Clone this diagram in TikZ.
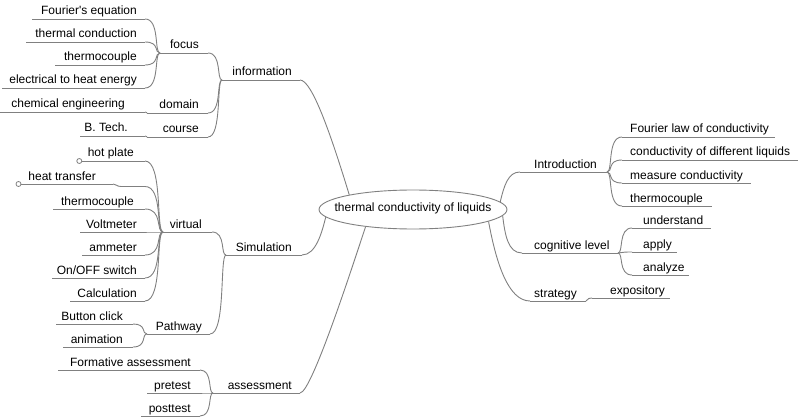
\documentclass[tikz,border=0pt]{standalone}
\usepackage{fontspec}
\setmainfont{Liberation Sans}
\usetikzlibrary{shapes.geometric,calc}
\definecolor{linegray}{RGB}{128,128,128}
\definecolor{txt}{RGB}{0,0,0}
\newcommand\leftitem[6]{%
  \coordinate (#1-l) at (#2,#4);
  \coordinate (#1-r) at (#3,#4);
  \draw[uline] (#1-l) -- (#1-r);
  \node[lbl, anchor=base east] (#1) at (#5,#4-4) {#6};}
\newcommand\rightitem[6]{%
  \coordinate (#1-l) at (#2,#4);
  \coordinate (#1-r) at (#3,#4);
  \draw[uline] (#1-l) -- (#1-r);
  \node[lbl, anchor=base west] (#1) at (#5,#4-4) {#6};}
\newcommand\mmlink[2]{\draw[conn] let \p1=(#1), \p2=(#2) in (\p1) .. controls (\x2,\y1) and ({0.4*\x1+0.6*\x2},\y2) .. (\p2);}
\begin{document}
\begin{tikzpicture}[x=1pt, y=-1pt,
  uline/.style={draw=linegray, line width=0.9pt},
  conn/.style={draw=linegray, line width=0.9pt},
  lbl/.style={inner sep=0pt, font=\fontsize{12}{14}\selectfont, text=txt},
  knob/.style={circle, draw=linegray, fill=white, line width=0.8pt, inner sep=0pt, minimum size=5pt}]
\useasboundingbox (0,0) rectangle (798,417);

% central topic
\node[ellipse, draw=linegray, line width=0.9pt, fill=white, minimum width=188pt, minimum height=39pt,
      inner sep=0pt, font=\fontsize{12}{14}\selectfont, text=txt] (root) at (413,209.5)
      {\raisebox{-4.3pt}{\smash{\makebox[0pt]{thermal conductivity of liquids}}}};

% ---------- information ----------
\leftitem{fe}{32}{145}{19}{137}{Fourier\textquotesingle s equation}
\leftitem{tc}{26}{145}{42}{137}{thermal conduction}
\leftitem{tha}{55}{145}{65}{137}{thermocouple}
\leftitem{el}{2}{145}{88}{137}{electrical to heat energy}
\leftitem{focus}{160}{208}{53}{199}{focus}
\leftitem{chem}{0}{145}{112}{125}{chemical engineering}
\leftitem{domain}{147}{208}{113}{199}{domain}
\leftitem{btech}{80}{145}{136}{128}{B. Tech.}
\leftitem{course}{147}{208}{137}{199}{course}
\leftitem{info}{222}{300}{80}{292}{information}
\mmlink{fe-r}{focus-l}
\mmlink{tc-r}{focus-l}
\mmlink{tha-r}{focus-l}
\mmlink{el-r}{focus-l}
\mmlink{chem-r}{domain-l}
\mmlink{btech-r}{course-l}
\mmlink{focus-r}{info-l}
\mmlink{domain-r}{info-l}
\mmlink{course-r}{info-l}
\draw[conn] (info-r) .. controls (312,80) and (331,135) .. (root.167);

% ---------- Simulation ----------
\leftitem{hp}{82}{145}{161}{134}{hot plate}
\leftitem{ht}{21}{113}{184}{96}{heat transfer}
\leftitem{thb}{53}{145}{209}{134}{thermocouple}
\leftitem{volt}{80}{145}{232}{137}{Voltmeter}
\leftitem{amm}{82}{145}{255}{137}{ammeter}
\leftitem{onoff}{52}{145}{278}{137}{On/OFF switch}
\leftitem{calc}{70}{145}{301}{137}{Calculation}
\leftitem{virtual}{163}{212}{232}{202}{virtual}
\leftitem{btn}{56}{133}{324}{123}{Button click}
\leftitem{anim}{63}{133}{347}{123}{animation}
\leftitem{path}{147}{210}{334}{202}{Pathway}
\leftitem{sim}{226}{302}{255}{292}{Simulation}
\node[knob] (hpk) at (79.3,161) {};
\node[knob] (htk) at (18.5,184) {};
\mmlink{hp-r}{virtual-l}
\draw[conn] (ht-r) .. controls (117,184) and (116,186.5) .. (121,186.5) -- (145,186.5)
  .. controls (163,186.5) and (155.8,232) .. (virtual-l);
\mmlink{thb-r}{virtual-l}
\mmlink{volt-r}{virtual-l}
\mmlink{amm-r}{virtual-l}
\mmlink{onoff-r}{virtual-l}
\mmlink{calc-r}{virtual-l}
\mmlink{btn-r}{path-l}
\mmlink{anim-r}{path-l}
\mmlink{virtual-r}{sim-l}
\mmlink{path-r}{sim-l}
\draw[conn] (sim-r) .. controls (316,255) and (322,232) .. (root.185);

% ---------- assessment ----------
\leftitem{form}{58}{200}{370}{191}{Formative assessment}
\leftitem{pre}{147}{200}{393}{191}{pretest}
\leftitem{post}{141}{200}{416}{191}{posttest}
\leftitem{assess}{213}{300}{393}{292}{assessment}
\mmlink{form-r}{assess-l}
\mmlink{pre-r}{assess-l}
\mmlink{post-r}{assess-l}
\draw[conn] (assess-r) .. controls (312,393) and (356,255) .. (root.200);

% ---------- right side ----------
\rightitem{intro}{520}{607}{172}{534}{Introduction}
\rightitem{fl}{622}{775}{137}{630}{Fourier law of conductivity}
\rightitem{cdl}{622}{798}{160}{630}{conductivity of different liquids}
\rightitem{mc}{622}{751}{183}{630}{measure conductivity}
\rightitem{thc}{622}{712}{206}{630}{thermocouple}
\rightitem{cog}{522}{618}{253}{534}{cognitive level}
\rightitem{und}{632}{711}{228}{643}{understand}
\rightitem{app}{632}{677}{252}{643}{apply}
\rightitem{ana}{632}{689}{275}{643}{analyze}
\rightitem{strat}{530}{586}{301}{534}{strategy}
\rightitem{expo}{592}{670}{298}{610}{expository}
\mmlink{fl-l}{intro-r}
\mmlink{cdl-l}{intro-r}
\mmlink{mc-l}{intro-r}
\mmlink{thc-l}{intro-r}
\mmlink{und-l}{cog-r}
\mmlink{app-l}{cog-r}
\mmlink{ana-l}{cog-r}
\mmlink{expo-l}{strat-r}
\draw[conn] (root.5) .. controls (504,186) and (508,172) .. (intro-l);
\draw[conn] (root.-4) .. controls (505,235) and (508,253) .. (cog-l);
\draw[conn] (root.-9) .. controls (496,262) and (508,301) .. (strat-l);
\end{tikzpicture}
\end{document}
